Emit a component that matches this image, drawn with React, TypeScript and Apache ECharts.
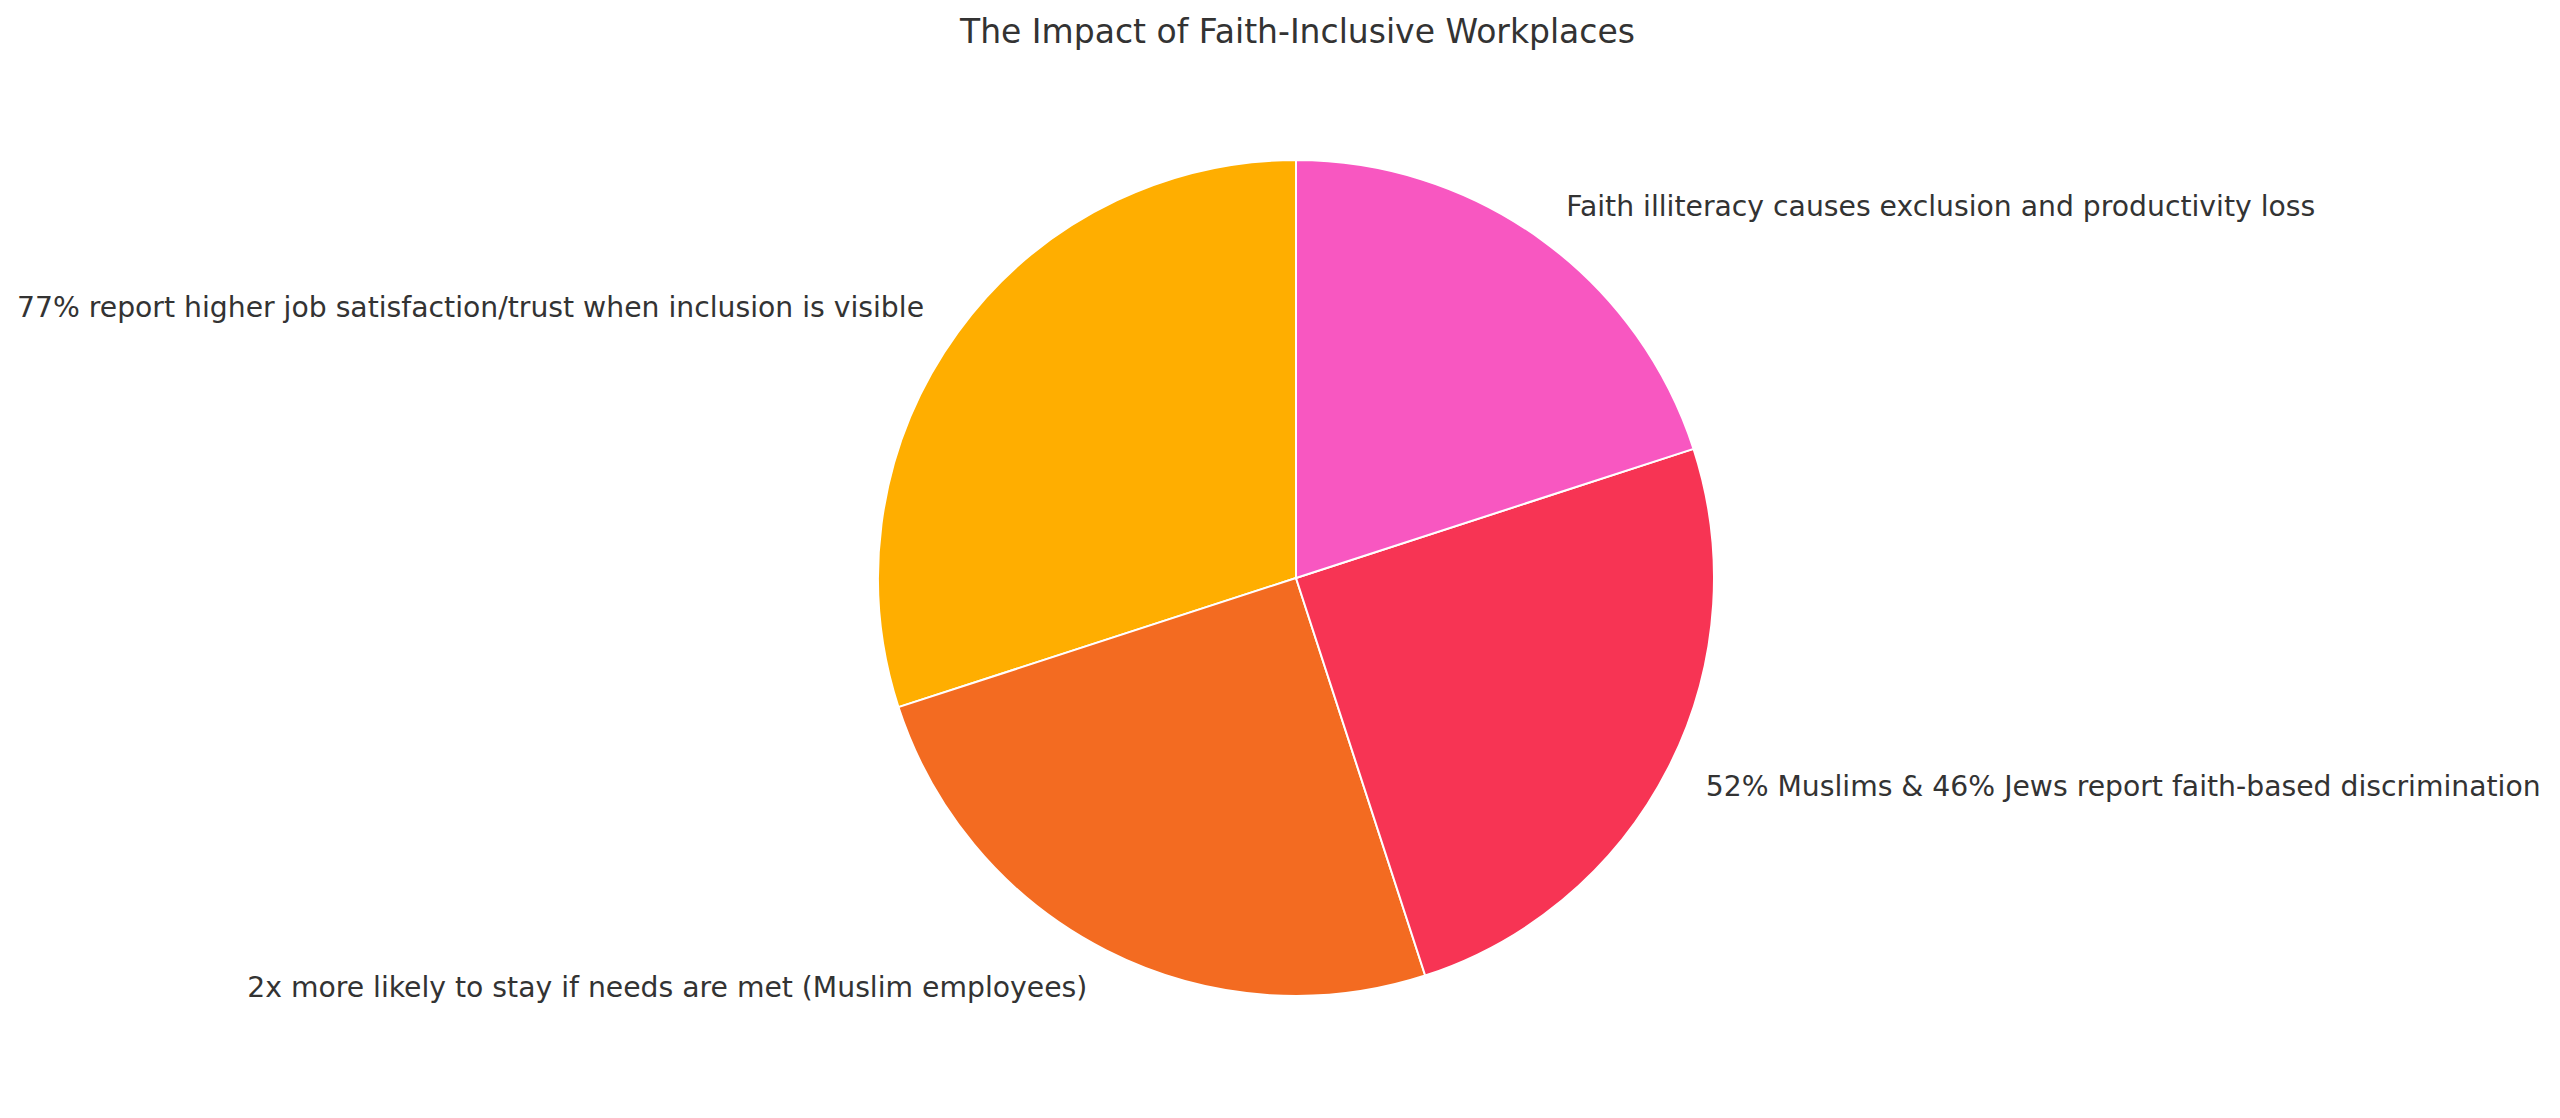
import React, { useEffect, useRef } from "react";
import * as echarts from "echarts";

const TITLE = "The Impact of Faith-Inclusive Workplaces";
const categories = [
  "77% report higher job satisfaction/trust when inclusion is visible",
  "2x more likely to stay if needs are met (Muslim employees)",
  "52% Muslims & 46% Jews report faith-based discrimination",
  "Faith illiteracy causes exclusion and productivity loss",
];
const values = [30, 25, 25, 20];
const colors = ["#FFAE00", "#F36B21", "#F73454", "#F857C1"];

const W = 2560;
const H = 1118;
const R = 418;

export default function App() {
  const ref = useRef<HTMLDivElement>(null);
  useEffect(() => {
    document.body.style.margin = "0";
    const chart = echarts.init(ref.current!, null, { renderer: "svg" });
    chart.setOption({
      animation: false,
      backgroundColor: "#ffffff",
      textStyle: { fontFamily: "DejaVu Sans" },
      title: {
        text: TITLE,
        left: 955,
        top: 10,
        textStyle: {
          fontFamily: "DejaVu Sans",
          fontSize: 33,
          fontWeight: "normal",
          color: "#333333",
        },
      },
      series: [
        {
          type: "pie",
          center: [1296, 578],
          radius: [0, R],
          startAngle: 90,
          clockwise: false,
          avoidLabelOverlap: false,
          data: categories.map((name, i) => ({
            name,
            value: values[i],
            itemStyle: { color: colors[i] },
          })),
          itemStyle: { borderColor: "#ffffff", borderWidth: 2 },
          label: {
            show: true,
            position: "outside",
            formatter: "{b}",
            fontFamily: "DejaVu Sans",
            fontSize: 28.25,
            color: "#333333",
            distanceToLabelLine: 0,
            bleedMargin: 0,
            overflow: "none",
            alignTo: "none",
          },
          labelLine: { show: false, length: R * 0.1, length2: 0 },
          emphasis: { disabled: true },
        },
      ],
    });
    return () => chart.dispose();
  }, []);
  return (
    <div
      ref={ref}
      style={{ position: "fixed", left: 0, top: 0, width: W, height: H }}
    />
  );
}
